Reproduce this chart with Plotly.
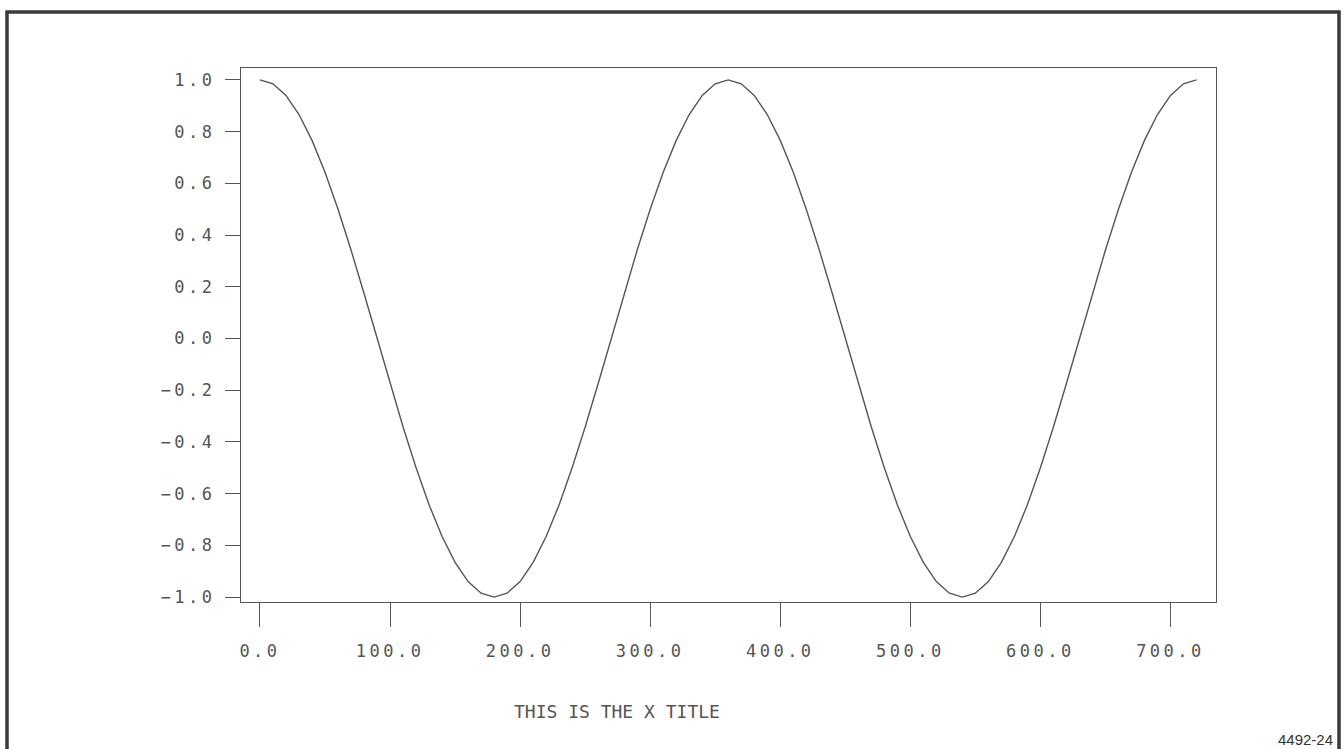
import plotly.graph_objects as go

angle_deg = [0, 10, 20, 30, 40, 50, 60, 70, 80, 90, 100, 110, 120, 130, 140, 150, 160, 170, 180,
             190, 200, 210, 220, 230, 240, 250, 260, 270, 280, 290, 300, 310, 320, 330, 340, 350, 360,
             370, 380, 390, 400, 410, 420, 430, 440, 450, 460, 470, 480, 490, 500, 510, 520, 530, 540,
             550, 560, 570, 580, 590, 600, 610, 620, 630, 640, 650, 660, 670, 680, 690, 700, 710, 720]
value = [1.0, 0.985, 0.94, 0.866, 0.766, 0.643, 0.5, 0.342, 0.174, 0.0, -0.174, -0.342, -0.5, -0.643, -0.766, -0.866, -0.94, -0.985, -1.0,
         -0.985, -0.94, -0.866, -0.766, -0.643, -0.5, -0.342, -0.174, 0.0, 0.174, 0.342, 0.5, 0.643, 0.766, 0.866, 0.94, 0.985, 1.0,
         0.985, 0.94, 0.866, 0.766, 0.643, 0.5, 0.342, 0.174, 0.0, -0.174, -0.342, -0.5, -0.643, -0.766, -0.866, -0.94, -0.985, -1.0,
         -0.985, -0.94, -0.866, -0.766, -0.643, -0.5, -0.342, -0.174, 0.0, 0.174, 0.342, 0.5, 0.643, 0.766, 0.866, 0.94, 0.985, 1.0]

x_ticks = [0, 100, 200, 300, 400, 500, 600, 700]
x_tick_labels = ["0.0", "100.0", "200.0", "300.0", "400.0", "500.0", "600.0", "700.0"]
y_ticks = [1.0, 0.8, 0.6, 0.4, 0.2, 0.0, -0.2, -0.4, -0.6, -0.8, -1.0]
y_tick_labels = ["1.0", "0.8", "0.6", "0.4", "0.2", "0.0", "\u22120.2", "\u22120.4", "\u22120.6", "\u22120.8", "\u22121.0"]

x_title = "THIS IS THE X TITLE"
figure_id = "4492-24"

line_col = "#555555"
text_col = "#555555"
mono = "DejaVu Sans Mono, Liberation Mono, monospace"

fig = go.Figure()
fig.add_trace(go.Scatter(x=angle_deg, y=value, mode="lines",
                         line=dict(color=line_col, width=1.4), hoverinfo="skip"))

fig.update_layout(
    width=1344, height=749,
    margin=dict(l=241, r=128, t=68, b=147),
    paper_bgcolor="white", plot_bgcolor="white",
    showlegend=False,
    xaxis=dict(range=[-14.6, 735], tickvals=x_ticks, ticktext=x_tick_labels,
               showgrid=False, zeroline=False, showline=True, mirror=True,
               linecolor=line_col, linewidth=1.4,
               ticks="outside", ticklen=24, tickwidth=1.4, tickcolor=line_col,
               tickfont=dict(family=mono, size=17, color=text_col),
               ticklabelstandoff=9),
    yaxis=dict(range=[-1.019, 1.046], tickvals=y_ticks, ticktext=y_tick_labels,
               showgrid=False, zeroline=False, showline=True, mirror=True,
               linecolor=line_col, linewidth=1.4,
               ticks="outside", ticklen=15, tickwidth=1.4, tickcolor=line_col,
               tickfont=dict(family=mono, size=17, color=text_col),
               ticklabelstandoff=6),
)

fig.add_annotation(text=x_title, xref="paper", yref="paper",
                   x=(617 - 241) / 975, y=(602 - 711) / 534,
                   xanchor="center", yanchor="middle", showarrow=False,
                   font=dict(family=mono, size=18, color=text_col))
fig.add_annotation(text=figure_id, xref="paper", yref="paper",
                   x=(1335 - 241) / 975, y=(602 - 739) / 534,
                   xanchor="right", yanchor="middle", showarrow=False,
                   font=dict(family="Liberation Sans, Arial, sans-serif", size=15, color="#333333"))

fig.add_shape(type="rect", xref="paper", yref="paper",
              x0=(7 - 241) / 975, x1=(1339 - 241) / 975,
              y0=(602 - 770) / 534, y1=(602 - 12) / 534,
              line=dict(color="#3a3a3a", width=3.5), layer="below")

post = """
document.body.style.margin = '0';
document.body.style.overflow = 'hidden';
document.querySelectorAll('.xtick text').forEach(function(t){ t.style.letterSpacing = '3.5px'; });
document.querySelectorAll('.ytick text').forEach(function(t){ t.style.letterSpacing = '3.5px'; });
"""

fig.write_html("out.html", post_script=post, config={"displayModeBar": False})
